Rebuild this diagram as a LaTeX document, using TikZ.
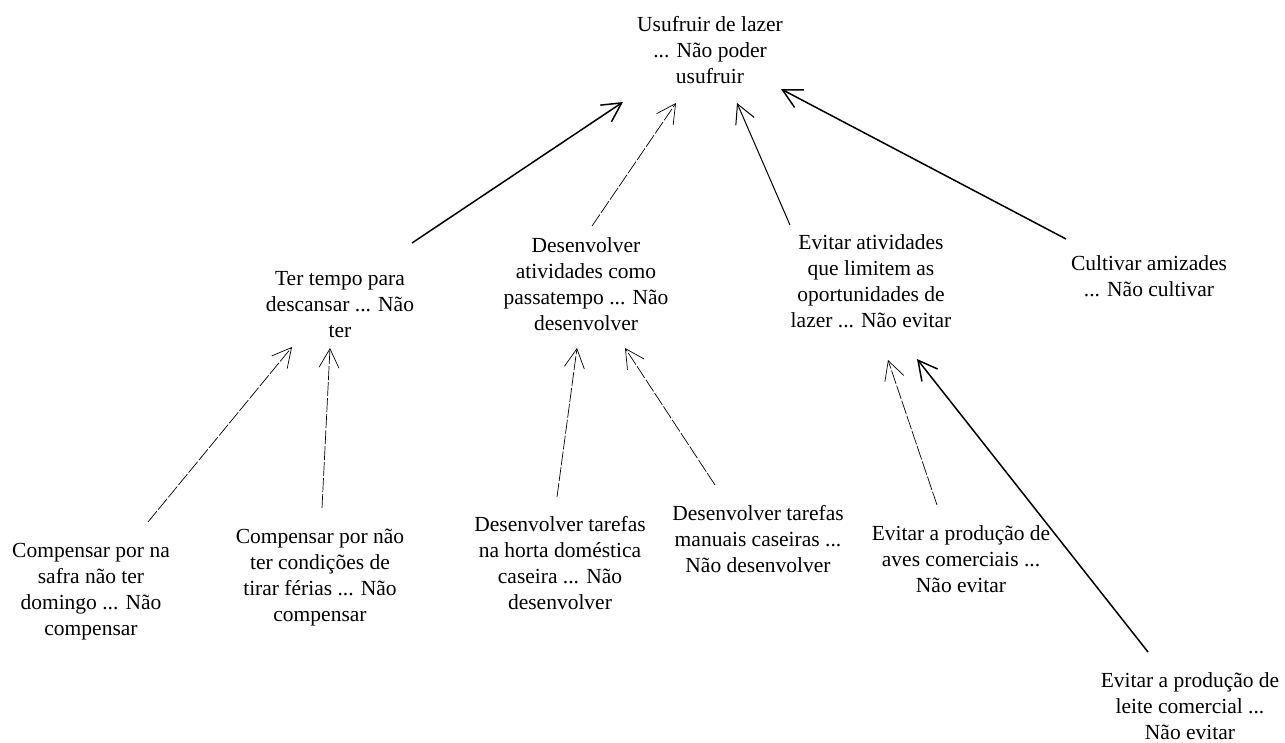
\documentclass[tikz,border=0pt]{standalone}
\usepackage{fontspec}
\setmainfont{Liberation Serif}
\usetikzlibrary{arrows.meta}

\tikzset{
  concept/.style={align=center, inner sep=0pt, font=\fontsize{21.5}{26}\selectfont},
  link/.style={-{Straight Barb[length=19pt,width=20pt]}, line width=1pt},
  strong link/.style={link, line width=1.5pt},
  weak link/.style={link, line width=0.7pt, dash pattern=on 14pt off 2pt},
}

\begin{document}
\begin{tikzpicture}[x=1pt, y=-1pt]
\useasboundingbox (0,0) rectangle (1285,742);

\node[concept] (n01) at (710, 50) {Usufruir de lazer\\... Não poder\\usufruir};

\node[concept] (n11) at (340, 305) {Ter tempo para\\descansar ... Não\\ter};
\node[concept] (n12) at (586, 284) {Desenvolver\\atividades como\\passatempo ... Não\\desenvolver};
\node[concept] (n13) at (871, 281) {Evitar atividades\\que limitem as\\oportunidades de\\lazer ... Não evitar};
\node[concept] (n14) at (1149, 276) {Cultivar amizades\\... Não cultivar};

\node[concept] (n21) at (91, 592) {Compensar por na\\safra não ter\\domingo ... Não\\compensar};
\node[concept] (n22) at (320, 578) {Compensar por não\\ter condições de\\tirar férias ... Não\\compensar};
\node[concept] (n23) at (560, 563) {Desenvolver tarefas\\na horta doméstica\\caseira ... Não\\desenvolver};
\node[concept] (n24) at (758, 539) {Desenvolver tarefas\\manuais caseiras ...\\Não desenvolver};
\node[concept] (n25) at (961, 559) {Evitar a produção de\\aves comerciais ...\\Não evitar};
\node[concept] (n26) at (1190, 706) {Evitar a produção de\\leite comercial ...\\Não evitar};

\draw[strong link] ([shift={(72,-62)}]n11.center) -- ([shift={(-87,52)}]n01.center);
\draw[weak link] ([shift={(6,-58)}]n12.center) -- ([shift={(-34,53)}]n01.center);
\draw[link] ([shift={(-81,-56)}]n13.center) -- ([shift={(27,53)}]n01.center);
\draw[strong link] ([shift={(-83,-37)}]n14.center) -- ([shift={(71,39)}]n01.center);

\draw[weak link] ([shift={(57,-70)}]n21.center) -- ([shift={(-48,42)}]n11.center);
\draw[weak link] ([shift={(2,-70)}]n22.center) -- ([shift={(-10,43)}]n11.center);

\draw[weak link] ([shift={(-3,-66)}]n23.center) -- ([shift={(-9,64)}]n12.center);
\draw[weak link] ([shift={(-43,-54)}]n24.center) -- ([shift={(39,64)}]n12.center);

\draw[weak link] ([shift={(-24,-54)}]n25.center) -- ([shift={(17,79)}]n13.center);
\draw[strong link] ([shift={(-42,-54)}]n26.center) -- ([shift={(46,78)}]n13.center);
\end{tikzpicture}
\end{document}
